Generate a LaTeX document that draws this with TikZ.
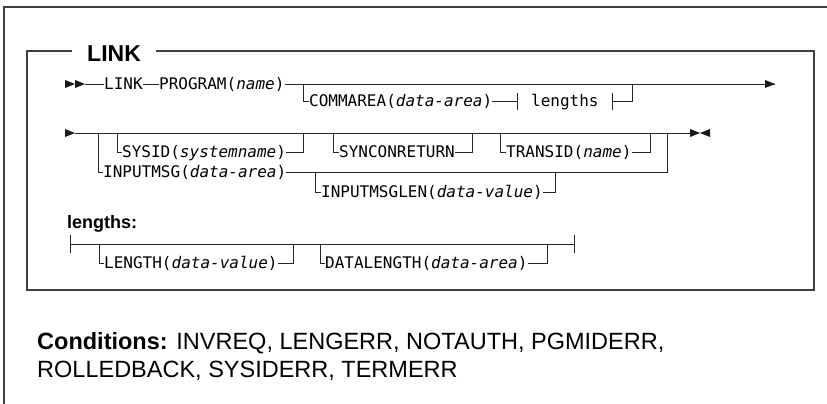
\documentclass[tikz,border=0pt]{standalone}
\usepackage{fontspec}
\setmainfont{Liberation Sans}
\setmonofont{DejaVu Sans Mono}
\usetikzlibrary{calc}
\begin{document}
\begin{tikzpicture}[x=1pt,y=-1pt,
  rail/.style={line width=0.9pt, draw=black!85},
  kw/.style={font=\fontsize{16}{18}\ttfamily, inner sep=0pt, text height=12pt, text depth=0.4pt, anchor=west},
  frame/.style={line width=1.2pt, draw=black!75},
  tip/.style={fill=black!90},
  hdr/.style={font=\fontsize{23}{26}\bfseries, inner ysep=0pt, inner xsep=15pt, anchor=base west},
  sub/.style={font=\fontsize{18}{20}\bfseries, inner sep=0pt, anchor=base west},
  cond/.style={font=\fontsize{23.5}{27}\selectfont, inner sep=0pt, anchor=base west}]
\useasboundingbox (0,0) rectangle (827,404);

% outer frame
\coordinate (of1) at (4,404);
\coordinate (of2) at (4,7);
\coordinate (of3) at (827,7);
\draw[frame] (of1) -- (of2) -- (of3);

% inner box
\coordinate (tl) at (27,51);
\coordinate (tr) at (814,51);
\coordinate (bl) at (27,290);
\coordinate (br) at (814,290);
\node[hdr] (title) at (72,62) {LINK};
\draw[frame] (title.west |- tl) -- (tl) -- (bl) -- (br) -- (tr) -- (title.east |- tr);

% ---------- row 1 ----------
\coordinate (r1s) at (85,84);
\fill[tip] (65,80) -- (75,84) -- (65,88) -- cycle;
\fill[tip] (75,80) -- (85,84) -- (75,88) -- cycle;
\node[kw] (link) at (104,84) {LINK};
\node[kw] (prog) at (159,84) {PROGRAM(\textit{name})};
\coordinate (r1e) at (775,84);
\draw[rail] (r1s) -- (link.west);
\draw[rail] (link.east) -- (prog.west);
\draw[rail] (prog.east) -- (r1e);
\fill[tip] (r1e) -- ++(-10,-4) -- ++(0,8) -- cycle;

% COMMAREA branch
\coordinate (c1) at (303,84);
\coordinate (c1b) at (303,101);
\node[kw] (comm) at (309,101) {COMMAREA(\textit{data-area})};
\coordinate (lb1) at (517,101);
\node[kw] (lref) at (531,101) {lengths};
\coordinate (lb2) at (612,101);
\coordinate (c2b) at (632,101);
\coordinate (c2) at (632,84);
\draw[rail] (c1) -- (c1b) -- (comm.west);
\draw[rail] (comm.east) -- (lb1);
\draw[rail] ($(lb1)+(0,-8.5)$) -- ($(lb1)+(0,8.5)$);
\draw[rail] ($(lb2)+(0,-8.5)$) -- ($(lb2)+(0,8.5)$);
\draw[rail] (lb2) -- (c2b) -- (c2);

% ---------- row 2 ----------
\coordinate (r2s) at (75,133);
\coordinate (r2e) at (690,133);
\fill[tip] (65,129) -- (r2s) -- (65,137) -- cycle;
\draw[rail] (r2s) -- (r2e);
\fill[tip] (690,129) -- (700,133) -- (690,137) -- cycle;
\fill[tip] (710,129) -- (700,133) -- (710,137) -- cycle;

% INPUTMSG
\coordinate (a1) at (98,133);
\coordinate (a2) at (98,172);
\node[kw] (imsg) at (103,172) {INPUTMSG(\textit{data-area})};
\coordinate (a3) at (667,172);
\coordinate (a4) at (667,133);
\draw[rail] (a1) -- (a2) -- (imsg.west);
\draw[rail] (imsg.east) -- (a3) -- (a4);

% SYSID
\coordinate (b1) at (117,133);
\coordinate (b2) at (117,152);
\node[kw] (sysid) at (122,152) {SYSID(\textit{systemname})};
\coordinate (b3) at (303,152);
\coordinate (b4) at (303,133);
\draw[rail] (b1) -- (b2) -- (sysid.west);
\draw[rail] (sysid.east) -- (b3) -- (b4);

% SYNCONRETURN
\coordinate (s1) at (333,133);
\coordinate (s2) at (333,152);
\node[kw] (sync) at (339,152) {SYNCONRETURN};
\coordinate (s3) at (472,152);
\coordinate (s4) at (472,133);
\draw[rail] (s1) -- (s2) -- (sync.west);
\draw[rail] (sync.east) -- (s3) -- (s4);

% TRANSID
\coordinate (t1) at (500,133);
\coordinate (t2) at (500,152);
\node[kw] (trans) at (506,152) {TRANSID(\textit{name})};
\coordinate (t3) at (650,152);
\coordinate (t4) at (650,133);
\draw[rail] (t1) -- (t2) -- (trans.west);
\draw[rail] (trans.east) -- (t3) -- (t4);

% INPUTMSGLEN
\coordinate (m1) at (315,172);
\coordinate (m2) at (315,192);
\node[kw] (imlen) at (321,192) {INPUTMSGLEN(\textit{data-value})};
\coordinate (m3) at (555,192);
\coordinate (m4) at (555,172);
\draw[rail] (m1) -- (m2) -- (imlen.west);
\draw[rail] (imlen.east) -- (m3) -- (m4);

% ---------- lengths ----------
\node[sub] (lhead) at (67,228) {lengths:};
\coordinate (ls) at (70,244);
\coordinate (le) at (574,244);
\draw[rail] ($(ls)+(0,-9)$) -- ($(ls)+(0,9)$);
\draw[rail] (ls) -- (le);
\draw[rail] ($(le)+(0,-9)$) -- ($(le)+(0,9)$);

\coordinate (l1) at (99,244);
\coordinate (l2) at (99,263);
\node[kw] (len) at (104,263) {LENGTH(\textit{data-value})};
\coordinate (l3) at (293,263);
\coordinate (l4) at (293,244);
\draw[rail] (l1) -- (l2) -- (len.west);
\draw[rail] (len.east) -- (l3) -- (l4);

\coordinate (d1) at (320,244);
\coordinate (d2) at (320,263);
\node[kw] (dlen) at (325,263) {DATALENGTH(\textit{data-area})};
\coordinate (d3) at (547,263);
\coordinate (d4) at (547,244);
\draw[rail] (d1) -- (d2) -- (dlen.west);
\draw[rail] (dlen.east) -- (d3) -- (d4);

% ---------- conditions ----------
\node[cond] (cond1) at (37,349) {\textbf{Conditions:} INVREQ, LENGERR, NOTAUTH, PGMIDERR,};
\node[cond] (cond2) at (37,377) {ROLLEDBACK, SYSIDERR, TERMERR};
\end{tikzpicture}
\end{document}
